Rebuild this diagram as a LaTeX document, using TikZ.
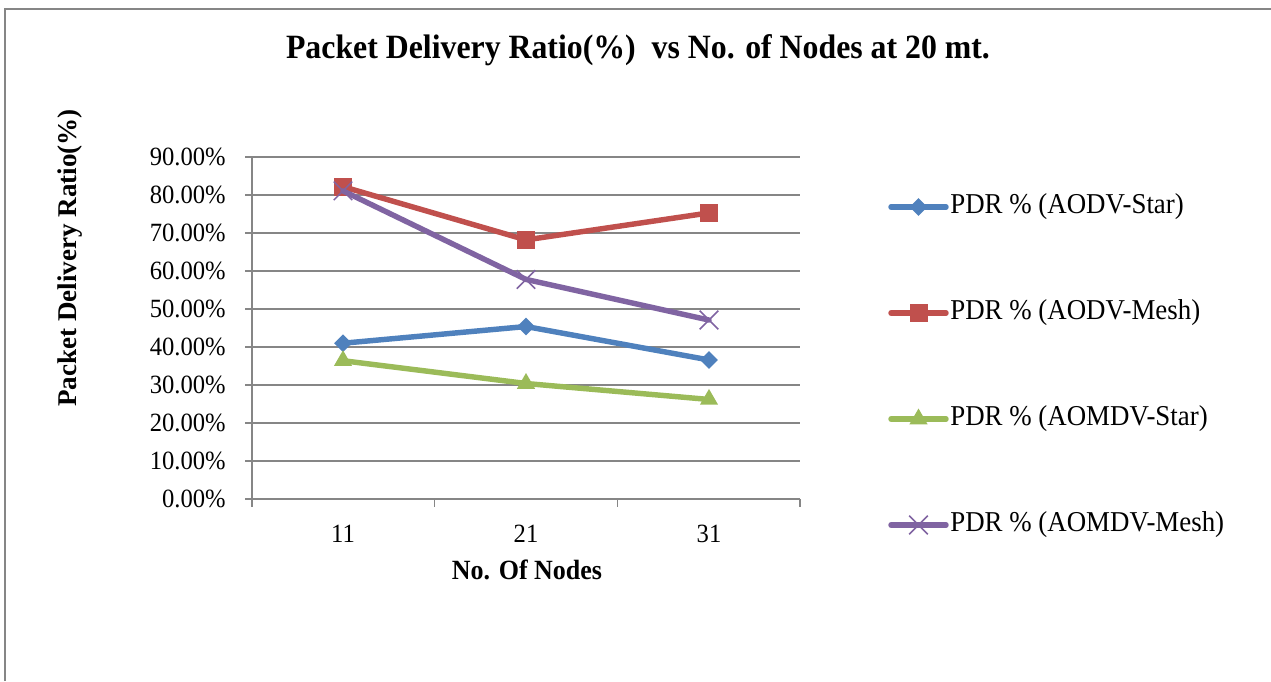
\documentclass[tikz,border=0pt]{standalone}
\usepackage{fontspec}
\setmainfont{Liberation Serif}
\usetikzlibrary{positioning,calc}
\usetikzlibrary{shapes.geometric}
\usetikzlibrary{shapes.misc}
\definecolor{aodvstar}{RGB}{79,129,189}
\definecolor{aodvmesh}{RGB}{192,80,77}
\definecolor{aomdvstar}{RGB}{155,187,89}
\definecolor{aomdvmesh}{RGB}{128,100,162}
\definecolor{gridgray}{RGB}{134,134,134}
\tikzstyle{frame} = [draw=gridgray, line width=0.6pt]
\tikzstyle{gridline} = [draw=gridgray, line width=0.9pt]
\tikzstyle{series} = [line width=3.1pt, line join=round, line cap=round]
\tikzstyle{ticklabel} = [inner sep=0pt, yscale=1.07, font=\fontsize{14}{16}\selectfont]
\tikzstyle{legendlabel} = [inner sep=0pt, yscale=1.07, font=\fontsize{15.3}{18}\selectfont]
\tikzstyle{axistitle} = [inner sep=0pt, font=\fontsize{14.8}{17}\selectfont\bfseries]
\tikzstyle{starmark} = [diamond, fill=aodvstar, inner sep=0pt, minimum size=0.36cm]
\tikzstyle{meshmark} = [rectangle, fill=aodvmesh, inner sep=0pt, minimum size=0.36cm]
\tikzstyle{omstarmark} = [regular polygon, regular polygon sides=3, fill=aomdvstar, inner sep=0pt, minimum size=0.42cm]
\tikzstyle{ommeshmark} = [cross out, draw=aomdvmesh, line width=0.9pt, inner sep=0pt, minimum size=0.34cm]

\begin{document}
\begin{tikzpicture}[x=0.02cm, y=-0.02cm]
    \useasboundingbox (0,0) rectangle (1271,681);
    \draw[frame] (5,681) -- (5,9) -- (1271,9);

    \node[inner sep=0pt, yscale=1.07, font=\fontsize{18.1}{22}\selectfont\bfseries] (title) at (638,50)
        {Packet Delivery Ratio(\%)~~vs No. of Nodes at 20 mt.};

    % plot area: origin at 0.00%, y in percent
    \begin{scope}[shift={(252,499)}, x=0.02cm, y=0.076cm]
        \foreach \p in {10,20,...,90}
            \draw[gridline] (-7,\p) -- (548,\p);
        \draw[gridline] (-7,0) -- (548,0);
        \draw[gridline] (0,0) -- (0,90);
        \foreach \t in {0,182.7,365.3,548}
            \draw[gridline] (\t,0) -- (\t,-2.1);

        \foreach \p in {0,10,...,90}
            \node[ticklabel, anchor=east] (ylab\p) at (-26,\p) {\p.00\%};
        \node[ticklabel] (xlab11) at (91,-9.2) {11};
        \node[ticklabel] (xlab21) at (274,-9.2) {21};
        \node[ticklabel] (xlab31) at (457,-9.2) {31};

        \coordinate (as11) at (91,41.0);
        \coordinate (as21) at (274,45.4);
        \coordinate (as31) at (457,36.6);
        \coordinate (am11) at (91,82.2);
        \coordinate (am21) at (274,68.2);
        \coordinate (am31) at (457,75.3);
        \coordinate (os11) at (91,36.4);
        \coordinate (os21) at (274,30.4);
        \coordinate (os31) at (457,26.2);
        \coordinate (om11) at (91,81.1);
        \coordinate (om21) at (274,57.8);
        \coordinate (om31) at (457,47.1);
    \end{scope}

    \draw[series, aodvstar] (as11) -- (as21) -- (as31);
    \node[starmark] (asm11) at (as11) {};
    \node[starmark] (asm21) at (as21) {};
    \node[starmark] (asm31) at (as31) {};

    \draw[series, aodvmesh] (am11) -- (am21) -- (am31);
    \node[meshmark] (amm11) at (am11) {};
    \node[meshmark] (amm21) at (am21) {};
    \node[meshmark] (amm31) at (am31) {};

    \draw[series, aomdvstar] (os11) -- (os21) -- (os31);
    \node[omstarmark] (osm11) at (os11) {};
    \node[omstarmark] (osm21) at (os21) {};
    \node[omstarmark] (osm31) at (os31) {};

    \draw[series, aomdvmesh] (om11) -- (om21) -- (om31);
    \node[ommeshmark] (omm11) at (om11) {};
    \node[ommeshmark] (omm21) at (om21) {};
    \node[ommeshmark] (omm31) at (om31) {};

    \node[axistitle, rotate=90, font=\fontsize{15.4}{18}\selectfont\bfseries] (ytitle) at (70,258) {Packet Delivery Ratio(\%)};
    \node[axistitle, yscale=1.07] (xtitle) at (527,570) {No. Of Nodes};

    % legend
    \node[legendlabel, anchor=west] (leg1) at (950,207) {PDR \% (AODV-Star)};
    \node[legendlabel, anchor=west] (leg2) at (950,313) {PDR \% (AODV-Mesh)};
    \node[legendlabel, anchor=west] (leg3) at (950,419) {PDR \% (AOMDV-Star)};
    \node[legendlabel, anchor=west] (leg4) at (950,525) {PDR \% (AOMDV-Mesh)};
    \coordinate[left=0.08cm of leg1.west] (k1);
    \coordinate[left=0.08cm of leg2.west] (k2);
    \coordinate[left=0.08cm of leg3.west] (k3);
    \coordinate[left=0.08cm of leg4.west] (k4);
    \draw[series, aodvstar] (k1) -- ++(-55,0) coordinate (k1e);
    \draw[series, aodvmesh] (k2) -- ++(-55,0) coordinate (k2e);
    \draw[series, aomdvstar] (k3) -- ++(-55,0) coordinate (k3e);
    \draw[series, aomdvmesh] (k4) -- ++(-55,0) coordinate (k4e);
    \node[starmark] (lm1) at ($(k1)!0.5!(k1e)$) {};
    \node[meshmark] (lm2) at ($(k2)!0.5!(k2e)$) {};
    \node[omstarmark] (lm3) at ($(k3)!0.5!(k3e)$) {};
    \node[ommeshmark] (lm4) at ($(k4)!0.5!(k4e)$) {};
\end{tikzpicture}
\end{document}
